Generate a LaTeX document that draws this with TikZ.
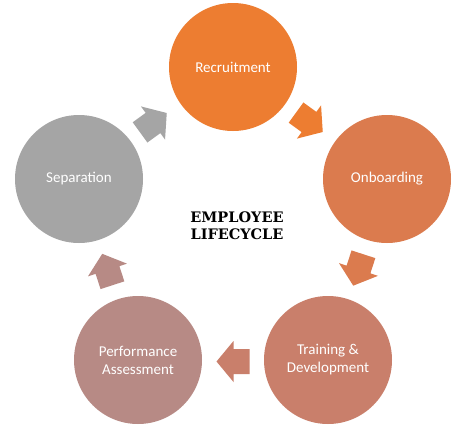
\documentclass[tikz,border=0pt]{standalone}
\usepackage{fontspec}
\setmainfont{Carlito}
\newfontfamily\titlefont{DejaVu Serif}
\definecolor{cA}{HTML}{ED7D31}
\definecolor{cB}{HTML}{DB7B4E}
\definecolor{cC}{HTML}{C97F6B}
\definecolor{cD}{HTML}{B78A85}
\definecolor{cE}{HTML}{A5A5A5}
\tikzset{
  stage/.style={circle, minimum size=128pt, inner sep=0pt, fill=#1, draw=none,
    text=white, font=\fontsize{15}{18}\selectfont, align=center},
  pics/blockarrow/.style={code={
    \fill[#1] (17,0) -- (0,20.5) -- (0,12.5) -- (-16,12.5) -- (-16,-12.5)
      -- (0,-12.5) -- (0,-20.5) -- cycle;}}
}
\begin{document}
\begin{tikzpicture}[x=1pt,y=-1pt]
\useasboundingbox (0,0) rectangle (474,434);
\fill[white] (0,0) rectangle (474,434);
\node[stage=cA] (rec) at (233,67) {Recruitment};
\node[stage=cB] (onb) at (387,179) {Onboarding};
\node[stage=cC] (tra) at (328,360) {Training \&\\Development};
\node[stage=cD] (per) at (138,360) {Performance\\Assessment};
\node[stage=cE] (sep) at (79,179) {Separation};
\pic[shift={(309,122)}, rotate=-36] {blockarrow=cA};
\pic[shift={(358.5,269.5)}, rotate=-108] {blockarrow=cB};
\pic[shift={(233.5,361.5)}, rotate=180] {blockarrow=cC};
\pic[shift={(107.5,270)}, rotate=108] {blockarrow=cD};
\pic[shift={(153,123)}, rotate=36] {blockarrow=cE};
\node[font=\titlefont\bfseries\fontsize{14.5}{17}\selectfont, align=center] (title) at (237,226) {EMPLOYEE\\LIFECYCLE};
\end{tikzpicture}
\end{document}
